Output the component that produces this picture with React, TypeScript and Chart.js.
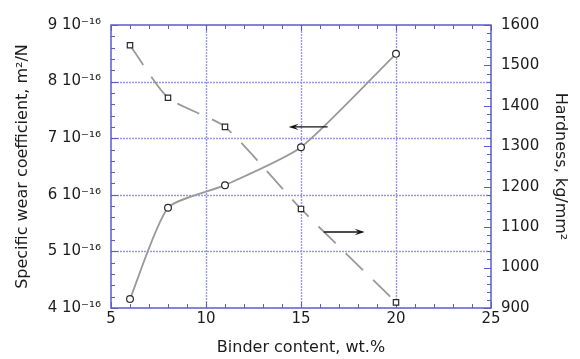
import React, { useEffect, useRef } from "react";
import { Chart, registerables } from "chart.js";

Chart.register(...registerables);

// ---- data ----
const binderContent = [6, 8, 11, 15, 20]; // wt.%
const wearCoefficient = [4.16, 5.77, 6.17, 6.84, 8.49]; // ×10⁻¹⁶ m²/N
const hardness = [1550, 1420, 1348, 1145, 914]; // kg/mm²

const xRange = [5, 25];
const wearRange = [4, 9];
const hardnessRange = [900, 1600];
const xStep = 5;
const wearStep = 1;
const hardnessStep = 100;
const xMinorStep = 1;
const wearMinorStep = 0.2;
const hardnessMinorStep = 20;

// arrows in data units: [x, y] on wear axis (left) and hardness axis (right)
const wearArrow = { from: [16.4, 7.2], to: [14.35, 7.2] };
const hardnessArrow = { from: [16.2, 1088], to: [18.35, 1088] };

const FONT = "'DejaVu Sans', sans-serif";
const TEXT = "#1c1c1c";
const AXIS_BLUE = "#5b5bcc";
const GRID_BLUE = "rgb(150,150,236)";

const framePlugin = {
  id: "frame",
  beforeDatasetsDraw(chart: any) {
    const { ctx, chartArea, scales } = chart;
    const { left, right, top, bottom } = chartArea;
    const x = scales.x, y = scales.y, y2 = scales.y2;
    ctx.save();
    // dotted grid at major ticks of x and left y
    ctx.strokeStyle = GRID_BLUE;
    ctx.lineWidth = 1.4;
    ctx.setLineDash([2, 1]);
    ctx.beginPath();
    x.ticks.forEach((t: any) => {
      const px = Math.round(x.getPixelForValue(t.value)) + 0.5;
      if (px <= left + 1 || px >= right - 1) return;
      ctx.moveTo(px, top);
      ctx.lineTo(px, bottom);
    });
    y.ticks.forEach((t: any) => {
      const py = Math.round(y.getPixelForValue(t.value)) + 0.5;
      if (py <= top + 1 || py >= bottom - 1) return;
      ctx.moveTo(left, py);
      ctx.lineTo(right, py);
    });
    ctx.stroke();
    ctx.setLineDash([]);

    ctx.strokeStyle = AXIS_BLUE;
    ctx.lineWidth = 1;
    ctx.beginPath();
    const nx = Math.round((xRange[1] - xRange[0]) / xMinorStep);
    for (let i = 0; i <= nx; i++) {
      const v = xRange[0] + i * xMinorStep;
      const px = Math.round(x.getPixelForValue(v)) + 0.5;
      const major = Math.abs(v / xStep - Math.round(v / xStep)) < 1e-6;
      const len = major ? 6 : 4;
      ctx.moveTo(px, bottom);
      ctx.lineTo(px, bottom - len);
      ctx.moveTo(px, top);
      ctx.lineTo(px, top + len);
    }
    const ny = Math.round((wearRange[1] - wearRange[0]) / wearMinorStep);
    for (let i = 0; i <= ny; i++) {
      const v = wearRange[0] + i * wearMinorStep;
      const py = Math.round(y.getPixelForValue(v)) + 0.5;
      const major = Math.abs(v / wearStep - Math.round(v / wearStep)) < 1e-6;
      const len = major ? 7 : 4;
      ctx.moveTo(left, py);
      ctx.lineTo(left + len, py);
    }
    const nh = Math.round((hardnessRange[1] - hardnessRange[0]) / hardnessMinorStep);
    for (let i = 0; i <= nh; i++) {
      const v = hardnessRange[0] + i * hardnessMinorStep;
      const py = Math.round(y2.getPixelForValue(v)) + 0.5;
      const major = Math.abs(v / hardnessStep - Math.round(v / hardnessStep)) < 1e-6;
      const len = major ? 7 : 4;
      ctx.moveTo(right, py);
      ctx.lineTo(right - len, py);
    }
    ctx.stroke();
    ctx.lineWidth = 1.5;
    ctx.strokeRect(left, top, right - left, bottom - top);
    ctx.restore();
  },
};

function drawArrow(ctx: CanvasRenderingContext2D, x1: number, y1: number, x2: number, y2: number) {
  const ang = Math.atan2(y2 - y1, x2 - x1);
  const headLen = 10;
  const headHalf = 3.2;
  ctx.beginPath();
  ctx.moveTo(x1, y1);
  ctx.lineTo(x2 - Math.cos(ang) * headLen * 0.6, y2 - Math.sin(ang) * headLen * 0.6);
  ctx.stroke();
  ctx.beginPath();
  ctx.moveTo(x2, y2);
  ctx.lineTo(
    x2 - Math.cos(ang) * headLen - Math.sin(ang) * headHalf,
    y2 - Math.sin(ang) * headLen + Math.cos(ang) * headHalf
  );
  ctx.lineTo(x2 - Math.cos(ang) * headLen * 0.6, y2 - Math.sin(ang) * headLen * 0.6);
  ctx.lineTo(
    x2 - Math.cos(ang) * headLen + Math.sin(ang) * headHalf,
    y2 - Math.sin(ang) * headLen - Math.cos(ang) * headHalf
  );
  ctx.closePath();
  ctx.fill();
}

const arrowPlugin = {
  id: "arrows",
  afterDatasetsDraw(chart: any) {
    const { ctx, scales } = chart;
    const x = scales.x, y = scales.y, y2 = scales.y2;
    ctx.save();
    ctx.strokeStyle = "#111";
    ctx.fillStyle = "#111";
    ctx.lineWidth = 1.3;
    drawArrow(
      ctx,
      x.getPixelForValue(wearArrow.from[0]), y.getPixelForValue(wearArrow.from[1]),
      x.getPixelForValue(wearArrow.to[0]), y.getPixelForValue(wearArrow.to[1])
    );
    drawArrow(
      ctx,
      x.getPixelForValue(hardnessArrow.from[0]), y2.getPixelForValue(hardnessArrow.from[1]),
      x.getPixelForValue(hardnessArrow.to[0]), y2.getPixelForValue(hardnessArrow.to[1])
    );
    ctx.restore();
  },
};

export default function App() {
  const canvasRef = useRef<HTMLCanvasElement | null>(null);

  useEffect(() => {
    if (!canvasRef.current) return;
    Chart.defaults.font.family = FONT;
    const chart = new Chart(canvasRef.current, {
      type: "line",
      data: {
        datasets: [
          {
            label: "Specific wear coefficient",
            data: binderContent.map((b, i) => ({ x: b, y: wearCoefficient[i] })),
            yAxisID: "y",
            borderColor: "#9a9a9a",
            borderWidth: 1.8,
            tension: 0.2,
            pointStyle: "circle",
            pointRadius: 3.4,
            pointBorderColor: "#2a2a2a",
            pointBackgroundColor: "#ffffff",
            pointBorderWidth: 1.2,
          },
          {
            label: "Hardness",
            data: binderContent.map((b, i) => ({ x: b, y: hardness[i] })),
            yAxisID: "y2",
            borderColor: "#9a9a9a",
            borderWidth: 1.8,
            borderDash: [24, 14],
            tension: 0.2,
            pointStyle: "rect",
            pointRadius: 3.8,
            pointBorderColor: "#2a2a2a",
            pointBackgroundColor: "#ffffff",
            pointBorderWidth: 1.2,
          },
        ],
      },
      options: {
        responsive: false,
        animation: false,
        devicePixelRatio: 1,
        layout: { padding: { top: 25, left: 0, right: 0, bottom: 0 } },
        plugins: { legend: { display: false }, tooltip: { enabled: false } },
        scales: {
          x: {
            type: "linear",
            position: "bottom",
            min: xRange[0],
            max: xRange[1],
            ticks: { stepSize: xStep, color: TEXT, font: { size: 15 }, padding: 2 },
            grid: { display: false, drawTicks: false },
            border: { display: false },
            title: {
              display: true,
              text: "Binder content, wt.%",
              color: TEXT,
              font: { size: 16 },
              padding: { top: 0, bottom: 2 },
            },
            afterFit: (s: any) => { s.height = 51; },
          },
          y: {
            type: "linear",
            position: "left",
            min: wearRange[0],
            max: wearRange[1],
            ticks: {
              stepSize: wearStep,
              color: TEXT,
              font: { size: 15 },
              padding: 10,
              callback: (v: any) => `${v} 10⁻¹⁶`,
            },
            grid: { display: false, drawTicks: false },
            border: { display: false },
            title: {
              display: true,
              text: "Specific wear coefficient, m²/N",
              color: TEXT,
              font: { size: 16 },
              padding: { top: 13, bottom: 0 },
            },
            afterFit: (s: any) => { s.width = 111; },
          },
          y2: {
            type: "linear",
            position: "right",
            min: hardnessRange[0],
            max: hardnessRange[1],
            ticks: {
              stepSize: hardnessStep,
              color: TEXT,
              font: { size: 15 },
              padding: 10,
              callback: (v: any) => String(v),
            },
            grid: { display: false, drawTicks: false },
            border: { display: false },
            title: {
              display: true,
              text: "Hardness, kg/mm²",
              color: TEXT,
              font: { size: 16 },
              padding: { top: 10, bottom: 0 },
            },
            afterFit: (s: any) => { s.width = 89; },
          },
        },
      },
      plugins: [framePlugin, arrowPlugin],
    } as any);
    return () => chart.destroy();
  }, []);

  return (
    <div style={{ position: "absolute", left: 0, top: 0, width: 580, height: 359, background: "#fff" }}>
      <canvas ref={canvasRef} width={580} height={359} style={{ display: "block" }} />
    </div>
  );
}
